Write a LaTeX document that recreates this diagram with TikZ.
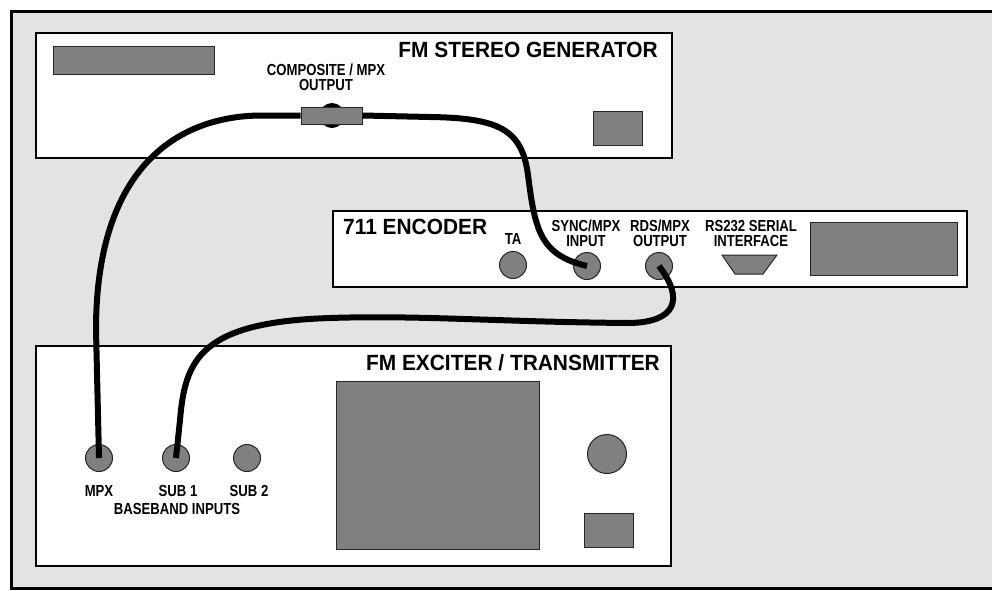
\documentclass[tikz,border=0pt]{standalone}
\usepackage{fontspec}
\setmainfont{Liberation Sans}
\newfontfamily\lblfont[FakeStretch=0.82]{Liberation Sans}
\newfontfamily\ttlfont[FakeStretch=0.95]{Liberation Sans}
\usetikzlibrary{shapes.geometric, positioning}

\definecolor{panelgray}{HTML}{E3E3E3}
\definecolor{partgray}{HTML}{808080}

\begin{document}
\begin{tikzpicture}[x=1pt, y=-1pt,
    unit/.style={draw, fill=white, line width=2pt},
    part/.style={draw=black!85, fill=partgray, line width=1pt},
    jack/.style={circle, draw=black!85, fill=partgray, line width=1pt,
                 minimum size=27pt, inner sep=0pt},
    title/.style={font=\ttlfont\bfseries\fontsize{22}{24}\selectfont, inner sep=0pt},
    lbl/.style={font=\lblfont\bfseries\fontsize{16}{15}\selectfont, align=center, inner sep=0pt},
    cable/.style={line width=6pt}
  ]
    \useasboundingbox (0,0) rectangle (992,590);
    \clip (0,0) rectangle (992,590);
    \draw[fill=panelgray, line width=2.8pt] (11.4,11.4) rectangle (1010,588.6);

    % stereo generator
    \draw[unit] (36,33) rectangle (672,158);
    \draw[part] (53,46) rectangle (214,74);
    \draw[part] (593,111) rectangle (642,145);
    \node[title, anchor=east] (gentitle) at (658,50) {FM STEREO GENERATOR};
    \node[lbl] (complbl) at (326,77.5) {COMPOSITE / MPX\\OUTPUT};
    \fill (332,115.5) circle (12.5);
    \node[part, minimum width=61pt, minimum height=17pt, inner sep=0pt] (mpxout) at (331.5,115.5) {};

    % encoder
    \draw[unit] (333,211) rectangle (967,287);
    \node[title, anchor=west] (enctitle) at (343,227) {711 ENCODER};
    \node[lbl] (talbl) at (513,239) {TA};
    \node[jack] (ta) at (513,265) {};
    \node[lbl] (synclbl) at (586,233.5) {SYNC/MPX\\INPUT};
    \node[jack] (sync) at (587,266) {};
    \node[lbl] (rdslbl) at (660,233.5) {RDS/MPX\\OUTPUT};
    \node[jack] (rds) at (659,266) {};
    \node[lbl] (rslbl) at (751,233.5) {RS232 SERIAL\\INTERFACE};
    \draw[part] (722,255) -- (777,255) -- (763,274) -- (735,274) -- cycle;
    \draw[part] (810,222) rectangle (957,275);

    % exciter
    \draw[unit] (36,346) rectangle (671,566);
    \node[title, anchor=east] (exctitle) at (660,363) {FM EXCITER / TRANSMITTER};
    \draw[part] (336,381) rectangle (539,549);
    \node[jack, minimum size=39pt] (knob) at (607,454) {};
    \draw[part] (584,513) rectangle (633,547);
    \node[jack] (mpxin) at (99,458) {};
    \node[jack] (sub1) at (176,458) {};
    \node[jack] (sub2) at (247,458) {};
    \node[lbl] (mpxlbl) at (99,491) {MPX};
    \node[lbl] (sub1lbl) at (178,491) {SUB 1};
    \node[lbl] (sub2lbl) at (249,491) {SUB 2};
    \node[lbl] (bblbl) at (177,509) {BASEBAND INPUTS};

    % cables
    \draw[cable] (mpxin.center) -- (96,330) .. controls (96,165) and (180,115.5) .. (262,115.5) -- (mpxout.west);
    \draw[cable] (mpxout.east) -- (430,117) .. controls (500,118) and (522,130) .. (528,175)
                 .. controls (535,230) and (540,255) .. (sync.center);
    \draw[cable] (rds.center) .. controls (685,300) and (675,322) .. (630,323)
                 .. controls (500,322) and (420,315) .. (330,318)
                 .. controls (200,322) and (185,360) .. (180,420) -- (sub1.center);
\end{tikzpicture}
\end{document}
